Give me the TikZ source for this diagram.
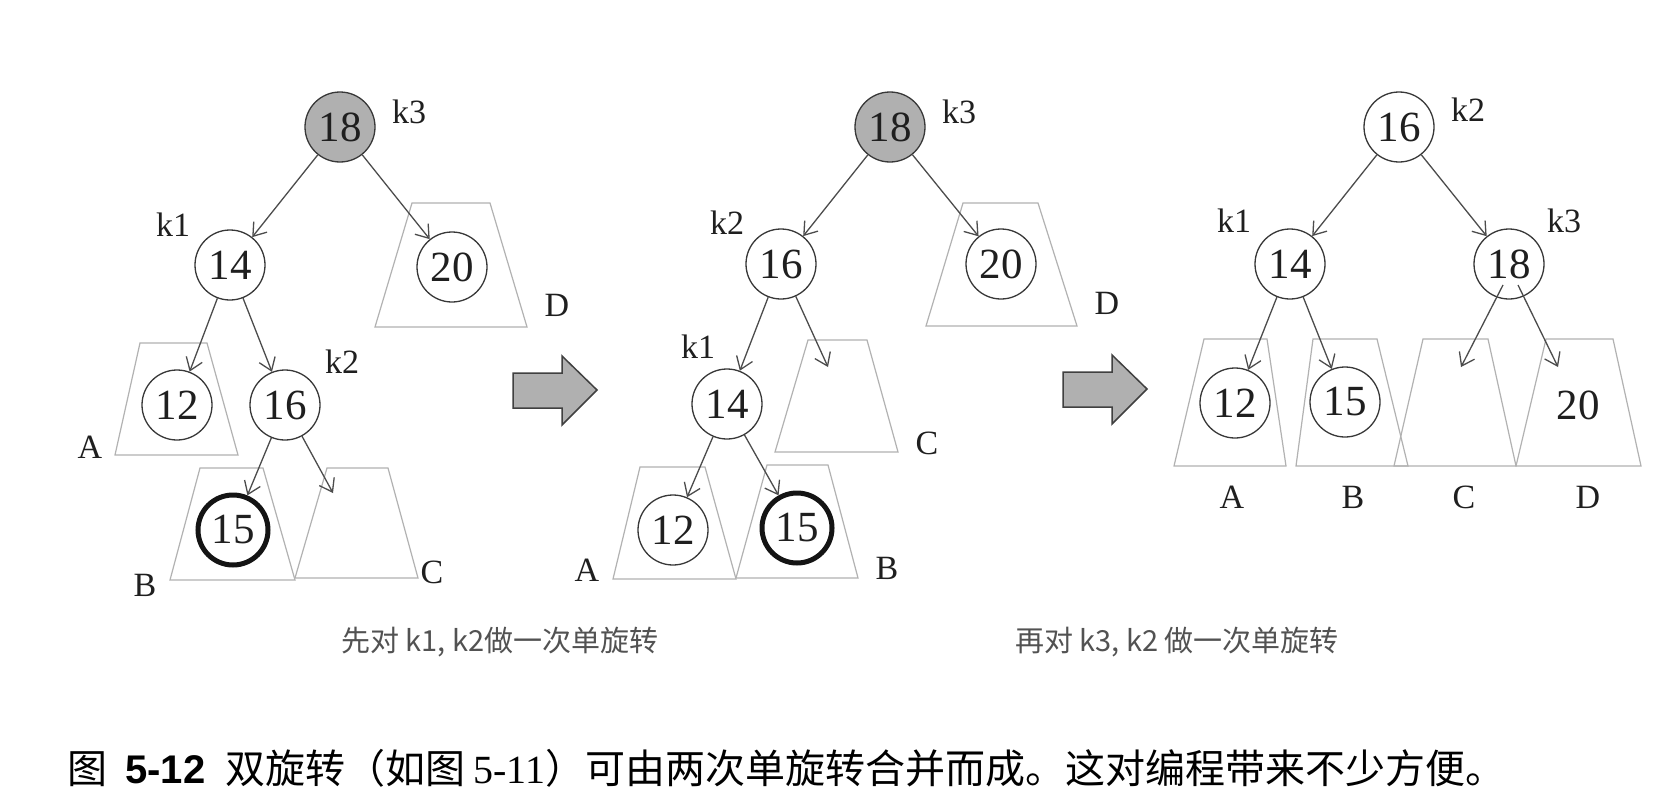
\documentclass[tikz,border=0pt]{standalone}
\usepackage{fontspec}
\setmainfont{Liberation Serif}
\newfontfamily\cjk{Noto Sans CJK SC}
\newfontfamily\arialf{Liberation Sans}
\usetikzlibrary{arrows.meta}
\begin{document}
\begin{tikzpicture}[x=1bp,y=-1bp,
  nd/.style={circle,draw=black!78,line width=1.3bp,fill=white,minimum size=70bp,inner sep=0pt,
    font=\fontsize{43bp}{43bp}\selectfont,text=black!88},
  hot/.style={nd,fill=gray!62},
  heavy/.style={nd,line width=5bp,draw=black!92},
  bare/.style={inner sep=0pt,font=\fontsize{43bp}{43bp}\selectfont,text=black!88},
  lbl/.style={inner sep=0pt,font=\fontsize{34bp}{34bp}\selectfont,text=black!88},
  conn/.style={draw=black!70,line width=1.3bp,
    -{Straight Barb[length=12bp,width=17bp,line width=1.3bp]}},
  subtree/.style={draw=black!30,line width=1.2bp,line join=miter},
  bigarrow/.style={draw=black!75,line width=1.5bp,fill=gray!62},
  captxt/.style={inner sep=0pt,font=\cjk\fontsize{29bp}{29bp}\selectfont,text=black!68},
  maincap/.style={inner sep=0pt,anchor=west,font=\fontsize{40bp}{40bp}\selectfont,text=black}
]
\useasboundingbox[fill=white] (0,0) rectangle (1661,811);

% ---------------- Tree 1 ----------------
\draw[subtree] (140,343) -- (207,343) -- (238,455) -- (115,455) -- cycle;
\draw[subtree] (200,468) -- (263,468) -- (295,580) -- (170,580) -- cycle;
\draw[subtree] (327,468) -- (388,468) -- (418,578) -- (295,578) -- cycle;
\draw[subtree] (412,203) -- (490,203) -- (527,327) -- (375,327) -- cycle;

\node[hot]   (t1a) at (340,127) {18};
\node[nd]    (t1b) at (230,265) {14};
\node[nd]    (t1c) at (452,267) {20};
\node[nd]    (t1d) at (177,405) {12};
\node[nd]    (t1e) at (285,405) {16};
\node[heavy] (t1f) at (233,530) {15};
\coordinate (t1C) at (333,493);

\node[lbl] (t1k3) at (409,112) {k3};
\node[lbl] (t1k1) at (173,225) {k1};
\node[lbl] (t1k2) at (342,362) {k2};
\node[lbl] (t1A) at (90,447) {A};
\node[lbl] (t1B) at (145,585) {B};
\node[lbl] (t1Cl) at (432,572) {C};
\node[lbl] (t1D) at (557,305) {D};

\draw[conn] (t1a) -- (t1b);
\draw[conn] (t1a) -- (t1c);
\draw[conn] (t1b) -- (t1d);
\draw[conn] (t1b) -- (t1e);
\draw[conn] (t1e) -- (t1f);
\draw[conn] (t1e) -- (t1C);

% big arrow 1
\draw[bigarrow] (513,373) -- (562,373) -- (562,356) -- (597,390) -- (562,425) -- (562,408) -- (513,408) -- cycle;

% ---------------- Tree 2 ----------------
\draw[subtree] (640,467) -- (705,467) -- (736,579) -- (613,579) -- cycle;
\draw[subtree] (767,465) -- (828,465) -- (858,578) -- (736,578) -- cycle;
\draw[subtree] (808,340) -- (867,340) -- (898,452) -- (775,452) -- cycle;
\draw[subtree] (963,203) -- (1038,203) -- (1077,326) -- (926,326) -- cycle;

\node[hot]   (t2a) at (890,127) {18};
\node[nd]    (t2b) at (781,264) {16};
\node[nd]    (t2c) at (1001,264) {20};
\node[nd]    (t2d) at (727,404) {14};
\node[nd]    (t2e) at (673,530) {12};
\node[heavy] (t2f) at (797,528) {15};
\coordinate (t2C) at (828,367);

\node[lbl] (t2k3) at (959,112) {k3};
\node[lbl] (t2k2) at (727,223) {k2};
\node[lbl] (t2k1) at (698,347) {k1};
\node[lbl] (t2A) at (587,570) {A};
\node[lbl] (t2B) at (887,568) {B};
\node[lbl] (t2Cl) at (927,443) {C};
\node[lbl] (t2D) at (1107,303) {D};

\draw[conn] (t2a) -- (t2b);
\draw[conn] (t2a) -- (t2c);
\draw[conn] (t2b) -- (t2d);
\draw[conn] (t2b) -- (t2C);
\draw[conn] (t2d) -- (t2e);
\draw[conn] (t2d) -- (t2f);

% big arrow 2
\draw[bigarrow] (1063,372) -- (1112,372) -- (1112,355) -- (1147,389) -- (1112,424) -- (1112,407) -- (1063,407) -- cycle;

% ---------------- Tree 3 ----------------
\draw[subtree] (1204,339) -- (1267,339) -- (1286,466) -- (1174,466) -- cycle;
\draw[subtree] (1313,339) -- (1377,339) -- (1408,466) -- (1296,466) -- cycle;
\draw[subtree] (1423,339) -- (1488,339) -- (1516,466) -- (1394,466) -- cycle;
\draw[subtree] (1546,339) -- (1613,339) -- (1641,466) -- (1516,466) -- cycle;

\node[nd] (t3a) at (1399,127) {16};
\node[nd] (t3b) at (1290,264) {14};
\node[nd] (t3c) at (1509,264) {18};
\node[nd] (t3d) at (1235,403) {12};
\node[nd] (t3e) at (1345,402) {15};
\node[bare] (t3f) at (1578,405) {20};
\coordinate (t3C) at (1461,367);
\coordinate (t3Dt) at (1558,367);
\coordinate (t3s1) at (1503,285);
\coordinate (t3s2) at (1518,285);

\node[lbl] (t3k2) at (1468,110) {k2};
\node[lbl] (t3k1) at (1234,221) {k1};
\node[lbl] (t3k3) at (1564,221) {k3};
\node[lbl] (t3A) at (1232,497) {A};
\node[lbl] (t3B) at (1353,497) {B};
\node[lbl] (t3Cl) at (1464,497) {C};
\node[lbl] (t3D) at (1588,497) {D};

\draw[conn] (t3a) -- (t3b);
\draw[conn] (t3a) -- (t3c);
\draw[conn] (t3b) -- (t3d);
\draw[conn] (t3b) -- (t3e);
\draw[conn] (t3s1) -- (t3C);
\draw[conn] (t3s2) -- (t3Dt);

% ---------------- captions ----------------
\node[captxt] (cap1) at (500,642) {先对 k1, k2做一次单旋转};
\node[captxt] (cap2) at (1177,642) {再对 k3, k2 做一次单旋转};
\node[maincap] (cap3) at (67,768) {{\cjk 图}\hspace{0.45em}{\arialf\bfseries 5-12}\hspace{0.5em}{\cjk 双旋转（如图}\hspace{0.2em}5-11{\cjk ）可由两次单旋转合并而成。这对编程带来不少方便。}};
\end{tikzpicture}
\end{document}
